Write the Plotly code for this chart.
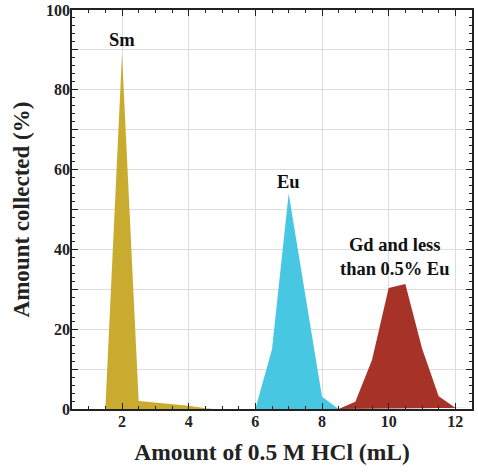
import plotly.graph_objects as go

sm_x = [1.5, 2.0, 2.5, 3.0, 3.5, 4.0, 4.5, 4.75]
sm_y = [0, 89, 2.0, 1.6, 1.2, 0.8, 0.2, 0]
eu_x = [6.0, 6.5, 7.0, 7.5, 8.0, 8.5]
eu_y = [0, 15, 54, 28.5, 3.1, 0]
gd_x = [8.5, 9.0, 9.5, 10.0, 10.5, 11.0, 11.5, 12.0, 12.5]
gd_y = [0, 1.8, 12.3, 30.3, 31.3, 15.2, 3.2, 0.3, 0.3]

labels = ["Sm", "Eu", "Gd and less<br>than 0.5% Eu"]
label_x = [2.0, 7.0, 10.2]
label_y = [92.5, 56.8, 38.0]

x_ticks = [2, 4, 6, 8, 10, 12]
y_tickvals = [0, 10, 20, 30, 40, 50, 60, 70, 80, 90, 100]
y_ticktext = ["0", "", "20", "", "40", "", "60", "", "80", "", "100"]

FONT = "Liberation Serif, Times New Roman, serif"

fig = go.Figure()
series = [
    (sm_x, sm_y, "rgba(198,166,36,0.95)"),
    (eu_x, eu_y, "rgba(62,196,226,0.95)"),
    (gd_x, gd_y, "rgba(163,42,30,0.96)"),
]
for xs, ys, col in series:
    fig.add_trace(go.Scatter(x=xs, y=ys, mode="lines", fill="toself",
                             fillcolor=col, line=dict(width=0, color=col),
                             hoverinfo="skip", showlegend=False))

for t, x, y in zip(labels, label_x, label_y):
    fig.add_annotation(x=x, y=y, text=t, showarrow=False,
                       font=dict(family=FONT, size=18.5, color="#111", weight="bold"))

axis_common = dict(showline=True, linecolor="#222", linewidth=1.5, mirror="ticks",
                   ticks="inside", ticklen=6, tickwidth=1.2, tickcolor="#222",
                   gridcolor="#dcdcdc", gridwidth=1, zeroline=False, automargin=False,
                   ticklabeloverflow="allow",
                   tickfont=dict(family=FONT, size=16, color="#222", weight="bold"))

fig.update_xaxes(range=[0.5, 12.5], tickvals=x_ticks, ticklabelstandoff=-3,
                 minor=dict(dtick=0.5, tick0=0, ticks="inside", ticklen=3, tickcolor="#222", showgrid=False),
                 title=dict(text="Amount of 0.5 M HCl (mL)", standoff=15,
                            font=dict(family=FONT, size=23.5, color="#222", weight="bold")),
                 **axis_common)
fig.update_yaxes(range=[0, 100], tickvals=y_tickvals, ticktext=y_ticktext, ticklabelstandoff=-3,
                 minor=dict(dtick=2, tick0=0, ticks="inside", ticklen=3, tickcolor="#222", showgrid=False),
                 title=dict(text="Amount collected (%)", standoff=10,
                            font=dict(family=FONT, size=23, color="#222", weight="bold")),
                 **axis_common)

fig.update_layout(width=478, height=473, margin=dict(l=72, r=6, t=10, b=64),
                  plot_bgcolor="white", paper_bgcolor="white")

fig.write_html("out.html", config={"displayModeBar": False},
               post_script="document.body.style.margin='0';")
